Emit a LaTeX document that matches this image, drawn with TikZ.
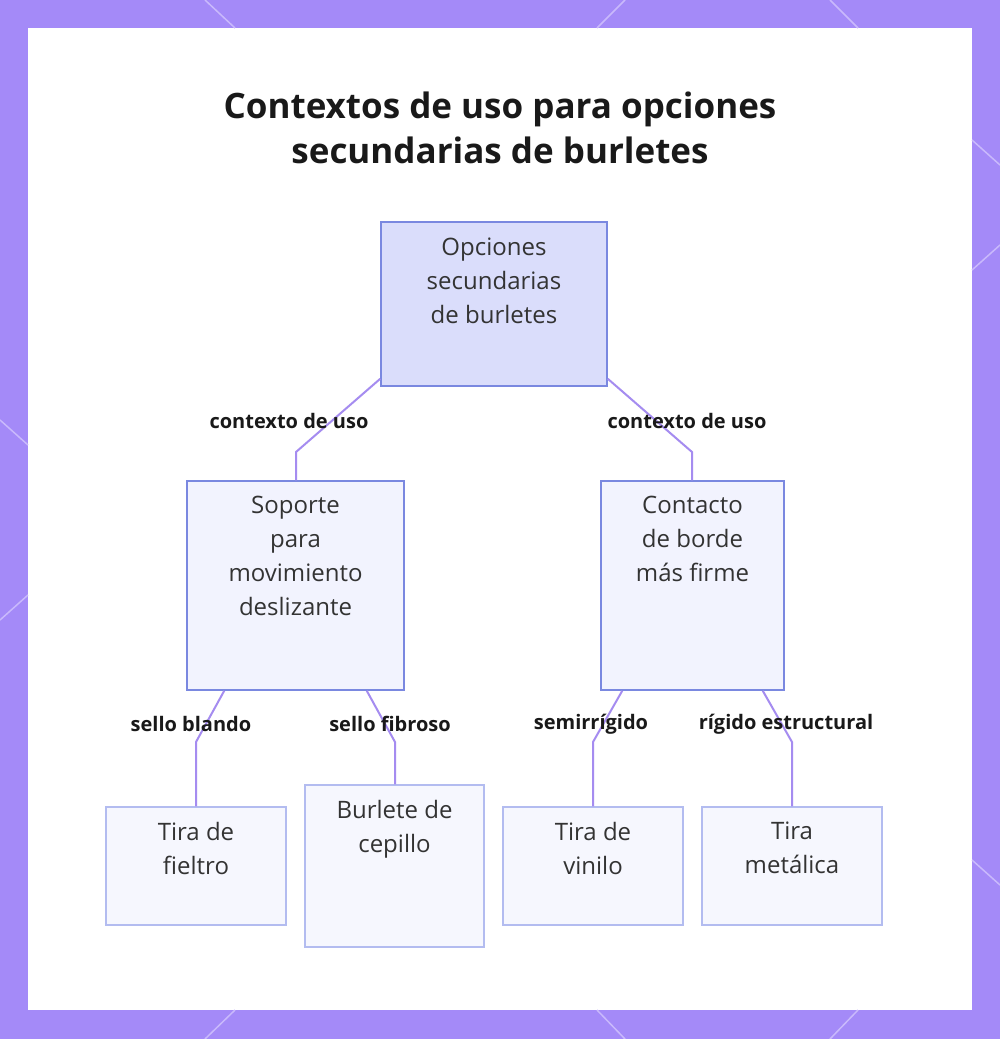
\documentclass[tikz,border=0pt]{standalone}
\usepackage{fontspec}
\setmainfont{Open Sans}
\definecolor{frame}{HTML}{A48AF8}
\definecolor{frameline}{HTML}{C9B9FC}
\definecolor{rootfill}{HTML}{DADDFB}
\definecolor{boxfill}{HTML}{F2F3FE}
\definecolor{boxline}{HTML}{7A88E0}
\definecolor{leafline}{HTML}{B3BCF0}
\definecolor{conn}{HTML}{A58CF0}
\definecolor{txt}{HTML}{333333}
\tikzset{
 box/.style={draw=boxline, line width=1.5pt, fill=boxfill, inner sep=0pt},
 leaf/.style={draw=leafline, line width=1.5pt, fill=boxfill!70!white, inner sep=0pt},
 btext/.style={anchor=north, align=center, font=\fontsize{24}{34}\selectfont, text=txt, inner sep=0pt},
 lbl/.style={font=\bfseries\fontsize{20}{25}\selectfont, text=black!90, inner sep=1pt},
 conline/.style={draw=conn, line width=2pt}
}
\begin{document}
\begin{tikzpicture}[x=1pt,y=-1pt]
\useasboundingbox (0,0) rectangle (1000,1039);
\fill[frame] (0,0) rectangle (1000,1039);
\fill[white] (28,28) rectangle (972,1010);
\begin{scope}[frameline, line width=1.5pt]
\draw (205,0)--(235,28); \draw (625,0)--(597,28); \draw (830,0)--(858,28);
\draw (0,420)--(28,445); \draw (0,620)--(28,595); \draw (972,140)--(1000,165);
\draw (972,270)--(1000,245); \draw (972,860)--(1000,885);
\draw (205,1039)--(235,1010); \draw (597,1010)--(625,1039); \draw (830,1039)--(858,1010);
\end{scope}
\node[font=\bfseries\fontsize{35}{45}\selectfont, align=center, text=black!90] (title) at (500,128) {Contextos de uso para opciones\\secundarias de burletes};

\node[box, fill=rootfill, draw=boxline, minimum width=226pt, minimum height=164pt] (root) at (494,304) {};
\node[btext] (roott) at (494,238) {Opciones\\secundarias\\de burletes};

\node[box, minimum width=217pt, minimum height=209pt] (sop) at (295.5,585.5) {};
\node[btext] (sopt) at (295.5,496) {Soporte\\para\\movimiento\\deslizante};
\node[box, minimum width=183pt, minimum height=209pt] (con) at (692.5,585.5) {};
\node[btext] (cont) at (692.5,496) {Contacto\\de borde\\más firme};

\node[leaf, minimum width=180pt, minimum height=118pt] (fie) at (196,866) {};
\node[btext] (fiet) at (196,822) {Tira de\\fieltro};
\node[leaf, minimum width=179pt, minimum height=162pt] (cep) at (394.5,866) {};
\node[btext] (cept) at (394.5,800) {Burlete de\\cepillo};
\node[leaf, minimum width=180pt, minimum height=118pt] (vin) at (593,866) {};
\node[btext] (vint) at (593,822) {Tira de\\vinilo};
\node[leaf, minimum width=180pt, minimum height=118pt] (met) at (792,866) {};
\node[btext] (mett) at (792,822) {Tira\\metálica};

\coordinate (r1) at (296,452); \coordinate (r2) at (692,452);
\draw[conline] ([yshift=8pt]root.south west) -- (r1) -- (sop.north -| r1);
\draw[conline] ([yshift=8pt]root.south east) -- (r2) -- (con.north -| r2);
\coordinate (a1) at (196,742); \coordinate (a2) at (395,742);
\coordinate (a3) at (593,742); \coordinate (a4) at (792,742);
\draw[conline] ([xshift=38pt]sop.south west) -- (a1) -- (fie.north -| a1);
\draw[conline] ([xshift=-38pt]sop.south east) -- (a2) -- (cep.north -| a2);
\draw[conline] ([xshift=22pt]con.south west) -- (a3) -- (vin.north -| a3);
\draw[conline] ([xshift=-22pt]con.south east) -- (a4) -- (met.north -| a4);

\node[lbl] (l1) at (289,421) {contexto de uso};
\node[lbl] (l2) at (687,421) {contexto de uso};
\node[lbl] (l3) at (191,724) {sello blando};
\node[lbl] (l4) at (390,724) {sello fibroso};
\node[lbl] (l5) at (591,724) {semirrígido};
\node[lbl] (l6) at (786,724) {rígido estructural};
\end{tikzpicture}
\end{document}
